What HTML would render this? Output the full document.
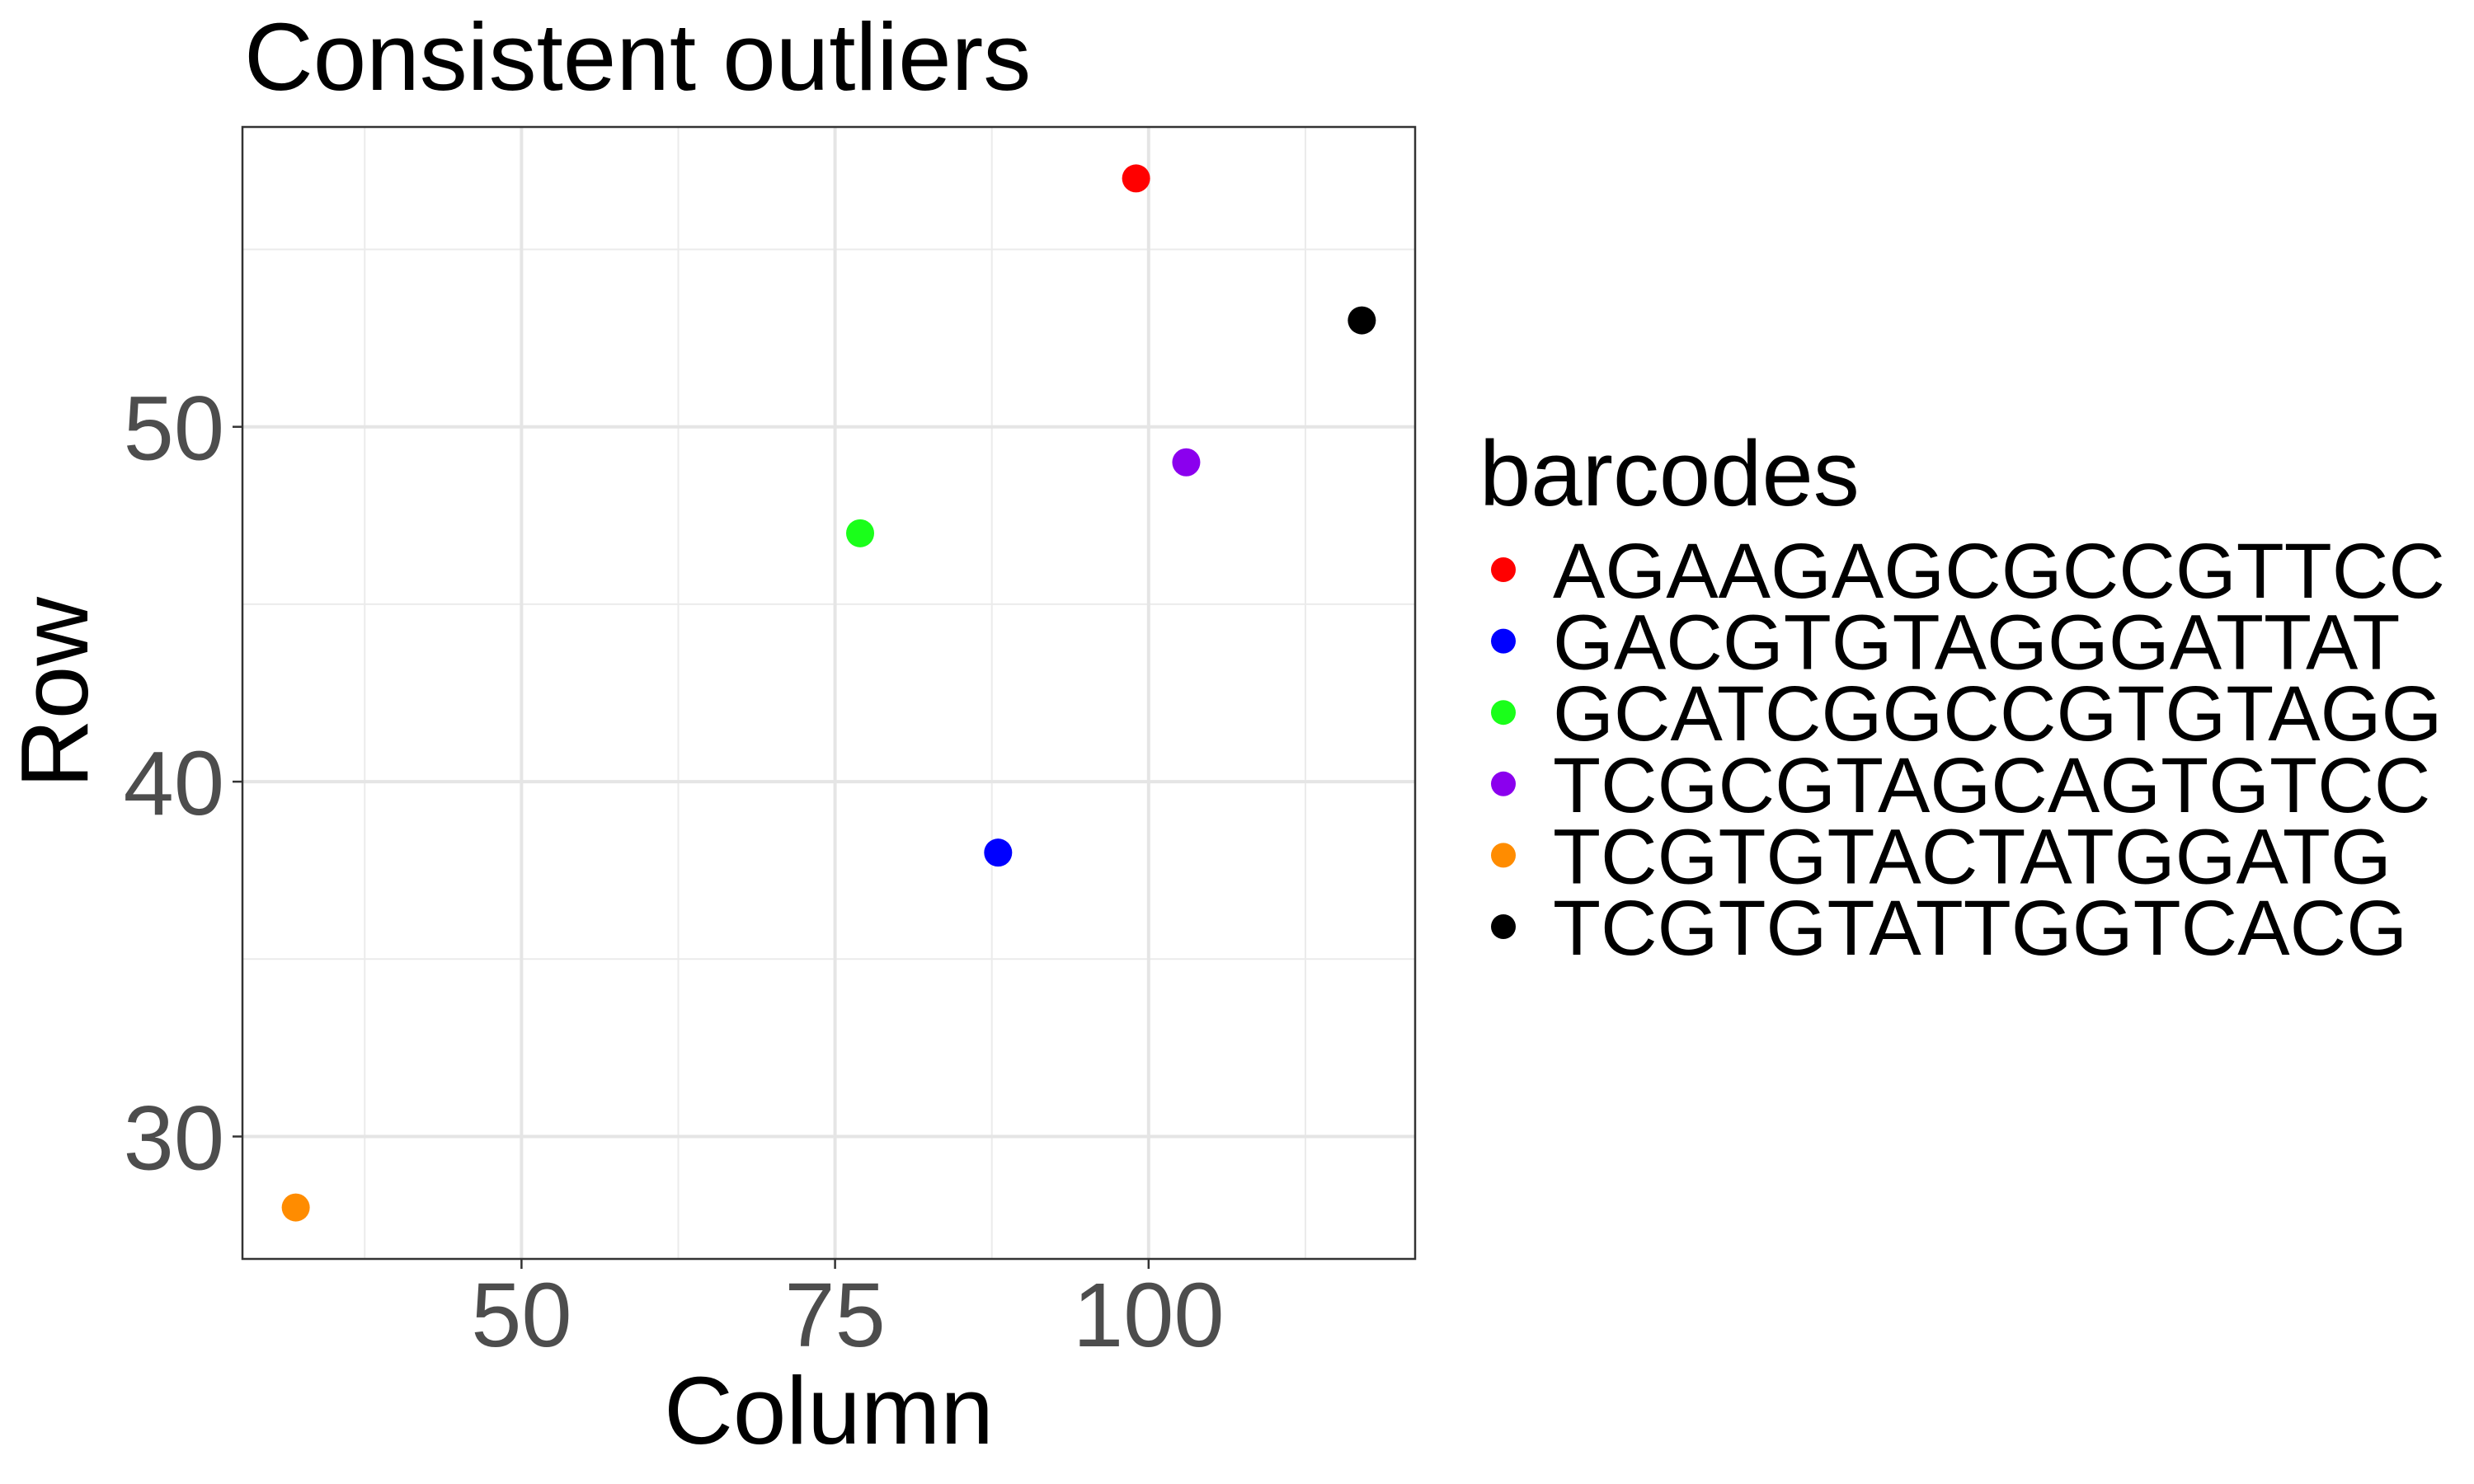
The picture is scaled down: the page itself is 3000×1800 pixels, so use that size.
<!DOCTYPE html>
<html><head><meta charset="utf-8"><style>
html,body{margin:0;padding:0;background:#fff;}
svg{display:block;font-family:"Liberation Sans",Arial,sans-serif;}
</style></head><body>
<svg id="chart" width="3000" height="1800" viewBox="0 0 3000 1800">
<rect width="3000" height="1800" fill="#fff"/>
<text x="296" y="109" font-size="116" fill="#000">Consistent outliers</text>
<g id="grid"></g>
<g id="points"></g>
<rect x="294" y="154" width="1422" height="1373" fill="none" stroke="#333" stroke-width="2.5"/>
<g id="axes"></g>
<text x="1005" y="1751" font-size="116" text-anchor="middle" fill="#000">Column</text>
<text transform="translate(106,840) rotate(-90)" font-size="116" text-anchor="middle" fill="#000">Row</text>
<text x="1794" y="613" font-size="112" fill="#000">barcodes</text>
<g id="legend"></g>
</svg>
<script>
const barcodes = ["AGAAGAGCGCCGTTCC","GACGTGTAGGGATTAT","GCATCGGCCGTGTAGG","TCGCGTAGCAGTGTCC","TCGTGTACTATGGATG","TCGTGTATTGGTCACG"];
const colors = ["#ff0000","#0000ff","#1aff1a","#8b00ee","#ff8c00","#000000"];
const columnValues = [99, 88, 77, 103, 32, 117];
const rowValues = [57, 38, 47, 49, 28, 53];
const xTicks = [50, 75, 100];
const yTicks = [30, 40, 50];
const xMinor = [37.5, 62.5, 87.5, 112.5];
const yMinor = [35, 45, 55];

const NS = "http://www.w3.org/2000/svg";
const L = 294, R = 1716, T = 154, B = 1527;
const xmin = 27.75, xmax = 121.25, ymin = 26.55, ymax = 58.45;
function sx(v){ return L + (v - xmin) / (xmax - xmin) * (R - L); }
function sy(v){ return B - (v - ymin) / (ymax - ymin) * (B - T); }
function mk(tag, attrs, parent){
  const e = document.createElementNS(NS, tag);
  for (const k in attrs) e.setAttribute(k, attrs[k]);
  parent.appendChild(e);
  return e;
}
const grid = document.getElementById('grid');
const axes = document.getElementById('axes');
const pts = document.getElementById('points');
const leg = document.getElementById('legend');

xMinor.forEach(v => {
  const l = mk('line', {x1: sx(v), x2: sx(v), y1: T, y2: B, stroke: '#ebebeb', 'stroke-width': 2}, grid);
  
  
});
yMinor.forEach(v => {
  const l = mk('line', {x1: L, x2: R, y1: sy(v), y2: sy(v), stroke: '#ebebeb', 'stroke-width': 2}, grid);
  
  
});
xTicks.forEach(v => {
  const l = mk('line', {x1: sx(v), x2: sx(v), y1: T, y2: B, stroke: '#e5e5e5', 'stroke-width': 4}, grid);
  
  
  const t = mk('line', {x1: sx(v), x2: sx(v), y1: B, y2: B + 12, stroke: '#333', 'stroke-width': 2.5}, axes);
  
  
  const tx = mk('text', {x: sx(v), y: 1633, 'font-size': 110, 'text-anchor': 'middle', fill: '#4d4d4d'}, axes);
  tx.textContent = v;
  
  
});
yTicks.forEach(v => {
  const l = mk('line', {x1: L, x2: R, y1: sy(v), y2: sy(v), stroke: '#e5e5e5', 'stroke-width': 4}, grid);
  
  
  const t = mk('line', {x1: L - 12, x2: L, y1: sy(v), y2: sy(v), stroke: '#333', 'stroke-width': 2.5}, axes);
  
  
  const tx = mk('text', {x: 272, y: sy(v) + 40, 'font-size': 110, 'text-anchor': 'end', fill: '#4d4d4d'}, axes);
  tx.textContent = v;
  
  
});
barcodes.forEach((b, i) => {
  const c = mk('circle', {cx: sx(columnValues[i]), cy: sy(rowValues[i]), r: 17, fill: colors[i]}, pts);
  
  
  const y = 691 + i * 86.6;
  const d = mk('circle', {cx: 1823, cy: y, r: 15, fill: colors[i]}, leg);
  
  
  const t = mk('text', {x: 1883, y: y + 34, 'font-size': 95, fill: '#000'}, leg);
  t.textContent = b;
  
  
});
</script>
</body></html>
